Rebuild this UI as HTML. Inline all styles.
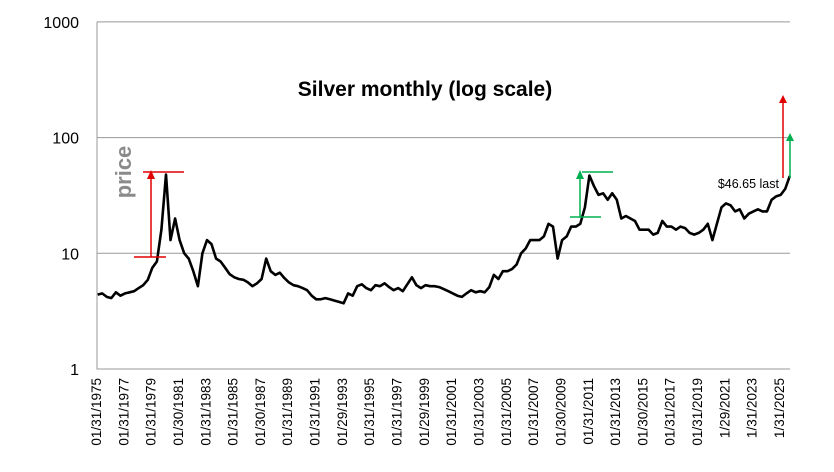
<!DOCTYPE html>
<html><head><meta charset="utf-8"><style>
body{margin:0;background:#fff}
svg{display:block;font-family:"Liberation Sans",Arial,sans-serif}
</style></head><body>
<svg id="chart" width="834" height="472" viewBox="0 0 834 472">
<g id="grid"></g>
<g id="axes"></g>
<path id="series" fill="none" stroke="#000" stroke-width="2.6" stroke-linejoin="round"/>
<text x="425" y="96" text-anchor="middle" font-size="21" font-weight="bold">Silver monthly (log scale)</text>
<text transform="translate(131,172) rotate(-90)" text-anchor="middle" font-size="22" font-weight="bold" fill="#8a8a8a">price</text>
<g stroke="#e00000" stroke-width="1.5">
<line x1="143" y1="172" x2="184" y2="172"/><line x1="134" y1="257" x2="166" y2="257"/><line x1="151" y1="257" x2="151" y2="178"/>
</g>
<polygon points="147,179 155,179 151,170" fill="#e00000"/>
<g stroke="#00b050" stroke-width="1.5">
<line x1="582" y1="172" x2="613" y2="172"/><line x1="570" y1="217" x2="601" y2="217"/><line x1="580" y1="217" x2="580" y2="178"/>
</g>
<polygon points="576,179 584,179 580,170" fill="#00b050"/>
<line x1="783" y1="178" x2="783" y2="102" stroke="#e00000" stroke-width="1.5"/>
<polygon points="779,103 787,103 783,95" fill="#e00000"/>
<line x1="790" y1="178" x2="790" y2="140" stroke="#00b050" stroke-width="1.5"/>
<polygon points="786,141 794,141 790,133" fill="#00b050"/>
<text x="779" y="188" text-anchor="end" font-size="12.5">$46.65 last</text>
<g id="xlabels"></g>
</svg>
<script>
const yTicks=[1,10,100,1000];
const xLabels=["01/31/1975","01/31/1977","01/31/1979","01/30/1981","01/31/1983","01/31/1985","01/30/1987","01/31/1989","01/31/1991","01/29/1993","01/31/1995","01/31/1997","01/29/1999","01/31/2001","01/31/2003","01/31/2005","01/31/2007","01/30/2009","01/31/2011","01/31/2013","01/30/2015","01/31/2017","01/31/2019","1/29/2021","1/31/2023","1/31/2025"];
const startYear=1975;
const prices=[4.4,4.5,4.2, 4.1,4.6,4.3, 4.5,4.6,4.7, 5.0,5.3,5.9, 7.5,8.5,16, 48,13,20, 13,10,9, 7,5.2,10, 13,12,9, 8.5,7.5,6.6, 6.2,6.0,5.9, 5.6,5.2,5.5, 6,9,7, 6.5,6.8,6.1, 5.6,5.3,5.2, 5.0,4.8,4.3, 4,4,4.1, 4,3.9,3.8, 3.7,4.5,4.3, 5.2,5.4,5.0, 4.8,5.3,5.2, 5.5,5.1,4.8, 5.0,4.7,5.4, 6.2,5.3,5.0, 5.3,5.2,5.2, 5.1,4.9,4.7, 4.5,4.3,4.2, 4.5,4.8,4.6, 4.7,4.6,5.1, 6.5,6.0,7.0, 7.0,7.3,8.0, 10,11,13, 13,13,14, 18,17,9, 13,14,17, 17,18,25, 47,38,32, 33,29,33, 29,20,21, 20,19,16, 16,16,14.5, 15,19,17, 17,16,17, 16.5,15,14.5, 15,16,18, 13,18,25, 27,26,23, 24,20,22, 23,24,23, 23,29,31, 32,36,46.65];
const X0=97,X1=780,Y0=369,DEC=115.7;
const x=t=>X0+(t-startYear)*(X1-X0)/50;
const y=v=>Y0-Math.log10(v)*DEC;
const NS="http://www.w3.org/2000/svg";
const grid=document.getElementById('grid'),axes=document.getElementById('axes'),xl=document.getElementById('xlabels');
yTicks.forEach(v=>{
 if(v>1){const l=document.createElementNS(NS,'line');
 
 
 l.setAttribute('x1',X0);l.setAttribute('x2',790);l.setAttribute('y1',y(v));l.setAttribute('y2',y(v));l.setAttribute('stroke','#999');grid.appendChild(l);}
 const t=document.createElementNS(NS,'text');
 
 
 t.setAttribute('x',79);t.setAttribute('y',y(v)+6);t.setAttribute('text-anchor','end');t.setAttribute('font-size','16');t.textContent=v;axes.appendChild(t);
});
const ax=document.createElementNS(NS,'path');


ax.setAttribute('d',`M${X0},${y(1000)}V${Y0}H790`);ax.setAttribute('stroke','#999');ax.setAttribute('fill','none');axes.appendChild(ax);
xLabels.forEach((s,i)=>{
 const t=document.createElementNS(NS,'text');
 
 
 const px=x(startYear+2*i)+4;
 t.setAttribute('transform',`translate(${px},378) rotate(-90)`);t.setAttribute('text-anchor','end');t.setAttribute('font-size','13.5');t.textContent=s;xl.appendChild(t);
});
let d='';
prices.forEach((v,i)=>{const t=startYear+i/3+0.05;d+=(i?'L':'M')+x(t).toFixed(1)+','+y(v).toFixed(1);});
document.getElementById('series').setAttribute('d',d);
</script>
</body></html>
